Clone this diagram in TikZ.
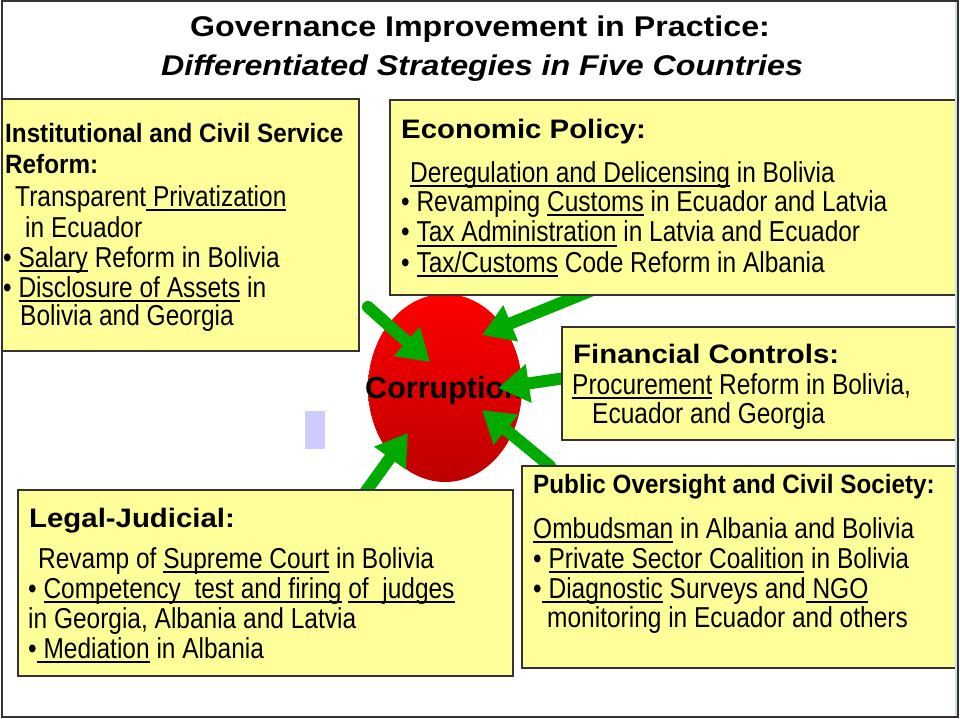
\documentclass[tikz,border=0pt]{standalone}
\usepackage{fontspec}
\setmainfont{Liberation Sans}
\newfontfamily\titlefam[FakeStretch=1.13]{Liberation Sans}
\newfontfamily\widefam[FakeStretch=1.1]{Liberation Sans}
\newfontfamily\narrowbfam[FakeStretch=0.915]{Liberation Sans}
\newfontfamily\bodyfam[FakeStretch=0.85]{Liberation Sans}
\usetikzlibrary{arrows.meta,shapes.geometric}
\definecolor{boxyellow}{HTML}{FFFF99}
\definecolor{arrgreen}{RGB}{0,170,0}
\definecolor{lavender}{HTML}{CCCCFF}
\definecolor{stripblue}{HTML}{C8E0F0}
\definecolor{framegray}{HTML}{333333}
\newsavebox\ulbox
\newcommand\ulx[1]{\sbox\ulbox{#1}\rlap{\rule[-4.5pt]{\wd\ulbox}{2pt}}\usebox\ulbox}
\newcommand\titlefont{\titlefam\bfseries\fontsize{28.5}{30}\selectfont}
\newcommand\hdwide{\widefam\bfseries\fontsize{26.7}{30}\selectfont}
\newcommand\hdnarrow{\narrowbfam\bfseries\fontsize{26.5}{30}\selectfont}
\newcommand\bodyfont{\bodyfam\fontsize{28.8}{30}\selectfont}
\tikzset{
  box/.style={draw=framegray, line width=1.3pt, fill=boxyellow},
  hdw/.style={anchor=base west, inner sep=0pt, font=\hdwide},
  hdn/.style={anchor=base west, inner sep=0pt, font=\hdnarrow},
  txt/.style={anchor=base west, inner sep=0pt, font=\bodyfont},
  ttl/.style={anchor=base, inner sep=0pt, font=\titlefont},
  arr/.style={draw=arrgreen, line width=12pt, line cap=round,
    -{Triangle[length=31pt,width=37pt]}}
}
\begin{document}
\begin{tikzpicture}[x=1pt,y=-1pt]
\useasboundingbox (0,0) rectangle (960,719);
\fill[white] (0,0) rectangle (960,719);

% title
\node[ttl] (t1) at (480,37) {Governance Improvement in Practice:};
\node[ttl] (t2) at (482,76) {\itshape Differentiated Strategies in Five Countries};

% central ellipse
\node[ellipse, minimum width=154pt, minimum height=188pt, inner sep=0pt,
  top color=red, bottom color=red!74!black, draw=none] (corr) at (445,388) {};
\node[anchor=base, inner sep=0pt, font=\bfseries\fontsize{30.5}{32}\selectfont] (corrtxt) at (444,398) {Corruption};

% arrow end points
\coordinate (s1) at (368,307); \coordinate (e1) at (430,362);
\coordinate (s2) at (600,287); \coordinate (e2) at (482,335);
\coordinate (s3) at (572,377); \coordinate (e3) at (498,388);
\coordinate (s4) at (550,466); \coordinate (e4) at (482,410);
\coordinate (s5) at (364,494); \coordinate (e5) at (408,433);
\draw[arr] (s1) -- (e1);
\draw[arr] (s2) -- (e2);
\draw[arr] (s3) -- (e3);
\draw[arr] (s4) -- (e4);
\draw[arr] (s5) -- (e5);

% boxes
\draw[box] (2,99) rectangle (359,351);
\draw[box] (390,100) rectangle (957,295);
\draw[box] (562,327) rectangle (957,440);
\draw[box] (522,466) rectangle (957,668);
\draw[box] (18,490) rectangle (513,676);

% Institutional box
\node[hdn] (i1) at (5,143) {Institutional and Civil Service};
\node[hdn] (i2) at (5,174) {Reform:};
\node[txt] (i3) at (15,207) {Transparent\ulx{\ Privatization}};
\node[txt] (i4) at (25,237) {in Ecuador};
\node[txt] (i5) at (3,267) {• \ulx{Salary} Reform in Bolivia};
\node[txt] (i6) at (3,297) {• \ulx{Disclosure of Assets} in};
\node[txt] (i7) at (20,325) {Bolivia and Georgia};

% Economic policy box
\node[hdw] (p1) at (401,139) {Economic Policy:};
\node[txt] (p2) at (410,183) {\ulx{Deregulation and Delicensing} in Bolivia};
\node[txt] (p3) at (401,212) {• Revamping \ulx{Customs} in Ecuador and Latvia};
\node[txt] (p4) at (401,242) {• \ulx{Tax Administration} in Latvia and Ecuador};
\node[txt] (p5) at (401,272) {• \ulx{Tax/Customs} Code Reform in Albania};

% Financial controls box
\node[hdw] (f1) at (573,363) {Financial Controls:};
\node[txt] (f2) at (572,394) {\ulx{Procurement} Reform in Bolivia,};
\node[txt] (f3) at (592,423) {Ecuador and Georgia};

% Public oversight box
\node[hdn] (o1) at (533,493) {Public Oversight and Civil Society:};
\node[txt] (o2) at (533,538) {\ulx{Ombudsman} in Albania and Bolivia};
\node[txt] (o3) at (533,568) {• \ulx{Private Sector Coalition} in Bolivia};
\node[txt] (o4) at (533,598) {•\ulx{\ Diagnostic} Surveys and\ulx{\ NGO}};
\node[txt] (o5) at (547,627) {monitoring in Ecuador and others};

% Legal-judicial box
\node[hdw] (l1) at (29,527) {Legal-Judicial:};
\node[txt] (l2) at (38,568) {Revamp of \ulx{Supreme Court} in Bolivia};
\node[txt] (l3) at (28,598) {• \ulx{Competency\ \ test and firing} \ulx{of\ \ judges}};
\node[txt] (l4) at (28,628) {in Georgia, Albania and Latvia};
\node[txt] (l5) at (28,658) {•\ulx{\ Mediation} in Albania};

% small lavender rectangle
\fill[lavender] (305,411) rectangle (325,449);

% right light strip and outer frame
\fill[stripblue] (954.5,0) rectangle (956.5,717);
\draw[framegray, line width=2.2pt] (2,1.2) rectangle (958,717);
\end{tikzpicture}
\end{document}
